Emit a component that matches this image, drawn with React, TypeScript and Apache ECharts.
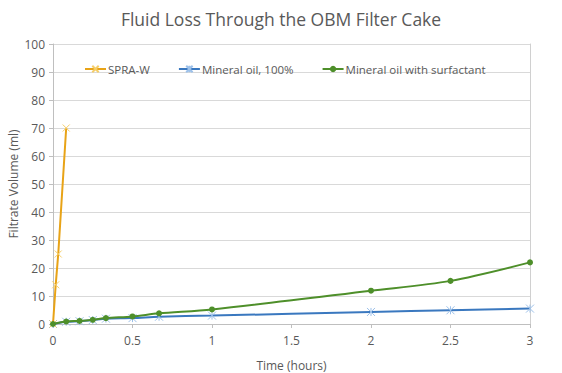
import React, { useEffect, useRef } from "react";
import * as echarts from "echarts";

const spraTime = [0, 0.017, 0.033, 0.083];
const spraVolume = [0, 14, 25, 70];

const oilTime = [0, 0.083, 0.167, 0.25, 0.333, 0.5, 0.667, 1, 2, 2.5, 3];
const oilVolume = [0, 0.8, 1.0, 1.4, 1.9, 2.1, 2.6, 3.0, 4.3, 4.9, 5.5];

const surfTime = [0, 0.083, 0.167, 0.25, 0.333, 0.5, 0.667, 1, 2, 2.5, 3];
const surfVolume = [0, 0.9, 1.1, 1.5, 2.1, 2.7, 3.8, 5.2, 11.9, 15.4, 22.0];

const xTicks = [0, 0.5, 1, 1.5, 2, 2.5, 3];

const FONT = "'Open Sans', 'Noto Sans', sans-serif";
const TEXT = "#595959";

const xSymbol = "path://M0,0 L10,10 M10,0 L0,10";
const starSymbol = "path://M0,0 L10,10 M10,0 L0,10 M5,0 L5,10";

const pairs = (xs: number[], ys: number[]) => xs.map((x, i) => [x, ys[i]]);

export default function App() {
  const ref = useRef<HTMLDivElement>(null);
  useEffect(() => {
    if (!ref.current) return;
    const chart = echarts.init(ref.current, undefined, { renderer: "svg" });
    chart.setOption({
      animation: false,
      backgroundColor: "#ffffff",
      title: {
        text: "Fluid Loss Through the OBM Filter Cake",
        left: "center",
        top: 5,
        textStyle: { fontFamily: FONT, fontSize: 17.5, fontWeight: "normal", color: TEXT },
      },
      legend: {
        top: 58,
        left: 79,
        itemGap: 28,
        itemWidth: 21,
        itemHeight: 8,
        textStyle: { fontFamily: FONT, fontSize: 11.5, color: TEXT, padding: [0, 0, 0, -3] },
        data: ["SPRA-W", "Mineral oil, 100%", "Mineral oil with surfactant"],
      },
      grid: {
        left: 53,
        right: 32,
        top: 44,
        bottom: 49,
        containLabel: false,
        outerBoundsMode: "none",
      },
      xAxis: {
        type: "value",
        min: 0,
        max: 3,
        interval: 0.5,
        name: "Time (hours)",
        nameLocation: "middle",
        nameGap: 35,
        nameMoveOverlap: false,
        nameTextStyle: { fontFamily: FONT, fontSize: 12, color: TEXT },
        axisLine: { show: true, lineStyle: { color: "#BFBFBF" } },
        axisTick: { show: true, length: 4, lineStyle: { color: "#BFBFBF" } },
        axisLabel: {
          fontFamily: FONT,
          fontSize: 12,
          color: TEXT,
          margin: 10,
          formatter: (v: number) => (xTicks.includes(v) ? String(v) : ""),
        },
        splitLine: { show: false },
      },
      yAxis: [
        {
          type: "value",
          min: 0,
          max: 100,
          interval: 10,
          name: "Filtrate Volume (ml)",
          nameLocation: "middle",
          nameGap: 34,
          nameMoveOverlap: false,
          nameTextStyle: { fontFamily: FONT, fontSize: 12, color: TEXT },
          axisLine: { show: true, lineStyle: { color: "#BFBFBF" } },
          axisTick: { show: true, length: 4, lineStyle: { color: "#BFBFBF" } },
          axisLabel: { fontFamily: FONT, fontSize: 12, color: TEXT, margin: 8 },
          splitLine: { show: true, lineStyle: { color: "#D9D9D9" } },
        },
        {
          type: "value",
          min: 0,
          max: 100,
          interval: 10,
          position: "right",
          axisLine: { show: true, lineStyle: { color: "#D0D0D0" } },
          axisTick: { show: false },
          axisLabel: { show: false },
          splitLine: { show: false },
        },
      ],
      series: [
        {
          name: "SPRA-W",
          type: "line",
          data: pairs(spraTime, spraVolume),
          symbol: xSymbol,
          symbolSize: 7,
          lineStyle: { color: "#E8A317", width: 2 },
          itemStyle: { color: "#E8A317", borderColor: "#F5CE6A", borderWidth: 1 },
          z: 3,
        },
        {
          name: "Mineral oil, 100%",
          type: "line",
          data: pairs(oilTime, oilVolume),
          smooth: 0.3,
          symbol: starSymbol,
          symbolSize: 8,
          lineStyle: { color: "#3A78BF", width: 2 },
          itemStyle: { color: "#3A78BF", borderColor: "#9DC1EA", borderWidth: 1 },
          z: 2,
        },
        {
          name: "Mineral oil with surfactant",
          type: "line",
          data: pairs(surfTime, surfVolume),
          smooth: 0.3,
          symbol: "circle",
          symbolSize: 6,
          showAllSymbol: true,
          lineStyle: { color: "#4E8F2A", width: 2 },
          itemStyle: { color: "#4E8F2A", borderColor: "#4E8F2A", borderWidth: 0 },
          z: 4,
        },
      ],
    });
    return () => chart.dispose();
  }, []);
  return (
    <div
      ref={ref}
      style={{ position: "fixed", left: 0, top: 0, width: 562, height: 373 }}
    />
  );
}
